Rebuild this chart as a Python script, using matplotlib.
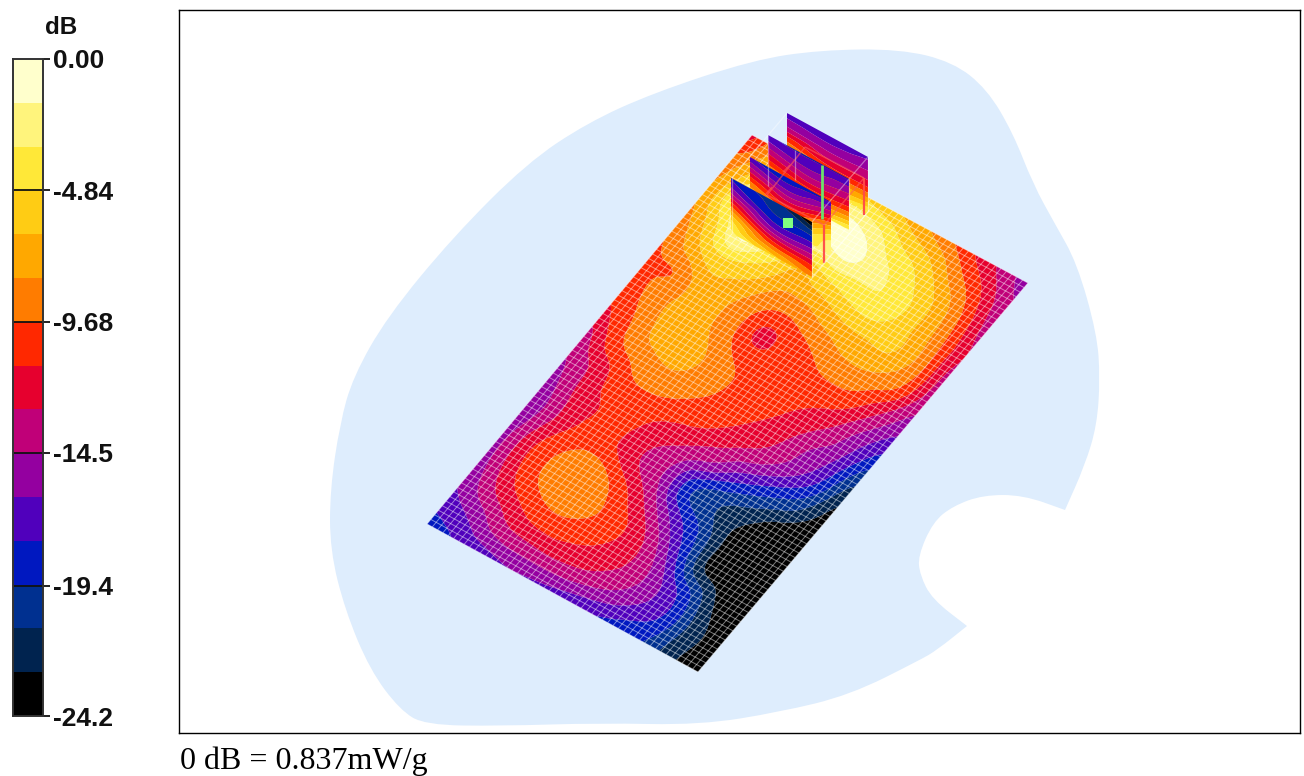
import numpy as np
import matplotlib
matplotlib.use("Agg")
import matplotlib.pyplot as plt
import matplotlib.tri as mtri
from matplotlib.path import Path
from matplotlib.patches import PathPatch
from matplotlib.collections import LineCollection
from matplotlib.colors import ListedColormap

# ---------------- data ----------------
band_colors = ['#000000', '#00234F', '#003090', '#0018C0', '#5000BC', '#9400A0',
               '#C00078', '#E6002E', '#FF2800', '#FF7C00', '#FFA800', '#FFCC14',
               '#FFE838', '#FFF47C', '#FFFFCC']
tick_values = [0.0, -4.84, -9.68, -14.5, -19.4, -24.2]
tick_labels = ['0.00', '-4.84', '-9.68', '-14.5', '-19.4', '-24.2']
db_min, db_max = -24.2, 0.0

# measurement surface: corners (left, top, right, bottom)
corner_a = (427, 524)
corner_b = (752, 135)
corner_c = (1028, 283)
corner_d = (698, 672)

# dB at grid nodes; one row per long-side step, one column per short-side step
row_00 = [-18.5, -17.8, -17.0, -16.4, -16.6, -17.2, -17.9, -18.7, -19.5, -22.3, -24.0]
row_01 = [-17.0, -15.5, -13.5, -13.0, -12.8, -13.2, -14.3, -16.0, -17.9, -21.8, -23.5]
row_02 = [-15.8, -12.9, -11.2, -10.2, -10.7, -11.6, -13.0, -15.5, -18.5, -22.6, -24.0]
row_03 = [-15.3, -11.6, -9.4, -8.6, -9.5, -11.0, -13.5, -17.8, -23.0, -24.0, -24.0]
row_04 = [-15.5, -11.5, -9.4, -8.5, -10.3, -12.9, -16.5, -19.3, -23.0, -24.0, -24.0]
row_05 = [-16.2, -12.9, -10.8, -11.0, -12.9, -14.8, -19.6, -21.0, -22.3, -24.0, -23.6]
row_06 = [-15.5, -12.6, -11.2, -10.9, -12.4, -13.5, -15.0, -17.5, -19.3, -21.0, -23.5]
row_07 = [-14.6, -12.4, -10.1, -9.9, -10.6, -11.2, -12.4, -13.6, -15.5, -18.0, -22.6]
row_08 = [-13.5, -10.1, -8.8, -8.2, -9.2, -10.2, -11.1, -12.3, -14.4, -16.3, -20.5]
row_09 = [-11.5, -9.4, -7.3, -7.4, -8.9, -10.0, -10.4, -11.3, -12.5, -15.0, -17.9]
row_10 = [-10.5, -8.9, -7.2, -8.1, -10.3, -10.9, -10.3, -10.0, -10.3, -12.8, -15.7]
row_11 = [-10.2, -9.7, -6.9, -8.0, -10.1, -10.4, -9.4, -8.2, -8.3, -9.7, -14.2]
row_12 = [-9.7, -6.6, -5.3, -6.2, -8.2, -8.1, -6.9, -6.4, -6.2, -8.7, -13.8]
row_13 = [-8.6, -4.9, -0.8, -3.8, -6.5, -5.0, -4.1, -3.9, -6.2, -9.0, -13.2]
row_14 = [-8.4, -3.0, -1.5, -3.0, -2.0, -1.0, -2.7, -4.2, -6.3, -9.5, -13.9]
row_15 = [-9.3, -6.0, -4.0, -3.0, -1.0, -2.0, -4.4, -5.8, -8.6, -11.1, -14.4]
row_16 = [-12.3, -8.0, -6.0, -5.0, -5.3, -6.2, -7.5, -9.2, -11.3, -13.4, -15.5]
plane_rows = [row_00, row_01, row_02, row_03, row_04, row_05, row_06, row_07, row_08,
              row_09, row_10, row_11, row_12, row_13, row_14, row_15, row_16]

# local minimum in the middle of the surface (x px, y px, dB)
pit = (762, 338, -12.6)

# volume-scan slices, front to back; rows = top to bottom, columns = left/middle/right
slice_1_db = [[-18, -20, -24], [-15, -19, -19.5], [-10, -16, -16], [-5, -11, -12], [-2.5, -6, -8.5]]
slice_2_db = [[-17.5, -19, -18], [-13.5, -16, -13], [-9, -12, -7], [-6, -8, -3], [-4, -5, -2]]
slice_3_db = [[-17.5, -18, -18], [-14.5, -16, -15], [-11, -13, -12], [-7, -9, -8], [-4, -5, -3]]
slice_4_db = [[-17, -17.5, -16.5], [-14.5, -15, -14.5], [-10, -12, -12], [-7, -8, -8], [-5, -5, -3]]
slice_1_box = [(731, 178), (812, 222), (812, 277), (731, 233)]
slice_2_box = [(750, 157), (831, 202), (831, 255), (750, 210)]
slice_3_box = [(768, 135), (849, 179), (849, 230), (768, 186)]
slice_4_box = [(787, 113), (868, 157), (868, 212), (787, 168)]

# phantom outline (pale blue); a repeated vertex keeps a corner sharp
outline_x = [900, 953, 987, 1013, 1033, 1055, 1077, 1097, 1100, 1097, 1085, 1065, 1065, 1023, 983,
             953, 933, 918, 920, 932, 967, 967, 937, 920, 850, 780, 700, 600, 500, 425, 400, 370, 345,
             330, 330, 340, 353, 387, 453, 527, 587, 653, 753, 820]
outline_y = [49, 62, 89, 133, 184, 224, 263, 334, 378, 425, 465, 510, 510, 495, 495,
             506, 522, 556, 575, 599, 626, 626, 650, 660, 695, 712, 725, 723, 726, 725, 710, 670, 610,
             550, 490, 423, 377, 317, 237, 163, 123, 93, 60, 50]

# wireframe of the zoom-scan box
red_segments = [[(824, 225), (864, 178)], [(767, 195), (824, 225)], [(805, 147), (864, 178)],
                [(767, 195), (805, 147)], [(790, 165), (783, 172)], [(772, 187), (765, 195)]]
red_posts = [[(824, 225), (824, 263)], [(864, 178), (864, 215)]]
white_segments = [[(787, 113), (732, 178)], [(868, 157), (812, 222)], [(868, 212), (812, 277)],
                  [(795, 150), (795, 180)], [(732, 178), (732, 233)], [(812, 222), (812, 277)],
                  [(868, 157), (868, 212)], [(768, 135), (768, 186)], [(849, 179), (849, 230)]]
green_line = [(822, 165), (822, 219)]
green_square = (787.5, 222.5)
mesh_long, mesh_short = 85, 51

levels = np.linspace(db_min, db_max, len(band_colors) + 1)

plt.rcParams['font.family'] = ['Liberation Sans', 'DejaVu Sans']
fig = plt.figure(figsize=(13.04, 7.76), dpi=100)
W, H = 1304, 776


def add_axes_px(x0, y0, x1, y1):
    return fig.add_axes([x0 / W, 1 - y1 / H, (x1 - x0) / W, (y1 - y0) / H])


def bilinear(u, v, a, b, c, d):
    x = (1 - u) * (1 - v) * a[0] + u * (1 - v) * b[0] + u * v * c[0] + (1 - u) * v * d[0]
    y = (1 - u) * (1 - v) * a[1] + u * (1 - v) * b[1] + u * v * c[1] + (1 - u) * v * d[1]
    return x, y


def soften(z, sigma):
    """Gaussian softening of the rendered field, to remove grid facets."""
    r = int(3 * sigma)
    k = np.exp(-0.5 * (np.arange(-r, r + 1) / sigma) ** 2)
    k /= k.sum()
    p = np.pad(z, r, mode='edge')
    p = np.apply_along_axis(lambda m: np.convolve(m, k, mode='same'), 0, p)
    p = np.apply_along_axis(lambda m: np.convolve(m, k, mode='same'), 1, p)
    return p[r:-r, r:-r]


def draw_field(ax, us, vs, values, a, b, c, d, zorder, extra=None, sigma=0.0, size=(500, 300), aspect=(507, 309)):
    uu, vv = np.meshgrid(us, vs, indexing='ij')
    uf, vf, zf = uu.ravel(), vv.ravel(), np.asarray(values, float).ravel()
    if extra is not None:
        uf = np.append(uf, extra[0])
        vf = np.append(vf, extra[1])
        zf = np.append(zf, extra[2])
    base = mtri.Triangulation(uf * aspect[0], vf * aspect[1])
    interp = mtri.CubicTriInterpolator(base, zf, kind='geom')
    ug = np.linspace(1e-6, 1 - 1e-6, size[0])
    vg = np.linspace(1e-6, 1 - 1e-6, size[1])
    U, V = np.meshgrid(ug, vg, indexing='ij')
    Z = np.ma.filled(interp(U * aspect[0], V * aspect[1]), np.nan)
    Z = np.where(np.isnan(Z), np.nanmean(Z), Z)
    if sigma > 0:
        Z = soften(Z, sigma)
    Z = np.clip(Z, db_min + 1e-3, db_max - 1e-3)
    X, Y = bilinear(U, V, a, b, c, d)
    return ax.contourf(X, Y, Z, levels=levels, colors=band_colors, zorder=zorder, antialiased=True)


# ---------------- main frame ----------------
ax = add_axes_px(179, 10, 1300, 733)
ax.set_xlim(179, 1300)
ax.set_ylim(733, 10)
ax.set_xticks([])
ax.set_yticks([])
for s in ax.spines.values():
    s.set_linewidth(1.0)
    s.set_color('black')

# phantom outline
pts = list(zip(outline_x, outline_y))
n = len(pts)
mid = lambda p, q: ((p[0] + q[0]) / 2, (p[1] + q[1]) / 2)
verts = [mid(pts[-1], pts[0])]
codes = [Path.MOVETO]
for i in range(n):
    verts += [pts[i], mid(pts[i], pts[(i + 1) % n])]
    codes += [Path.CURVE3, Path.CURVE3]
ax.add_patch(PathPatch(Path(verts, codes), facecolor='#DEEDFD', edgecolor='none', zorder=1))

# surface
us = np.linspace(0, 1, len(plane_rows))
vs = np.linspace(0, 1, len(plane_rows[0]))
dx, dy = pit[0] - corner_a[0], pit[1] - corner_a[1]
ex, ey = corner_b[0] - corner_a[0], corner_b[1] - corner_a[1]
fx, fy = corner_d[0] - corner_a[0], corner_d[1] - corner_a[1]
det = ex * fy - ey * fx
pit_uv = ((dx * fy - dy * fx) / det, (ex * dy - ey * dx) / det, pit[2])
draw_field(ax, us, vs, plane_rows, corner_a, corner_b, corner_c, corner_d, 2, extra=pit_uv, sigma=6.0)

# white mesh on the surface
segs = []
for t in np.linspace(0, 1, mesh_long + 1):
    segs.append([bilinear(t, 0.0, corner_a, corner_b, corner_c, corner_d),
                 bilinear(t, 1.0, corner_a, corner_b, corner_c, corner_d)])
for t in np.linspace(0, 1, mesh_short + 1):
    segs.append([bilinear(0.0, t, corner_a, corner_b, corner_c, corner_d),
                 bilinear(1.0, t, corner_a, corner_b, corner_c, corner_d)])
ax.add_collection(LineCollection(segs, colors='white', linewidths=0.7, alpha=0.48, zorder=3))

# slices, back to front
ss = np.linspace(0, 1, 3)
tt = np.linspace(0, 1, 5)
for z, (vals, box) in enumerate([(slice_4_db, slice_4_box), (slice_3_db, slice_3_box),
                                 (slice_2_db, slice_2_box), (slice_1_db, slice_1_box)]):
    tl, tr, br, bl = box
    draw_field(ax, tt, ss, vals, tl, bl, br, tr, 4 + z, size=(80, 120), aspect=(55, 90))

ax.add_collection(LineCollection(red_segments, colors='#FF5A5A', linewidths=1.1, alpha=0.6, zorder=9))
ax.add_collection(LineCollection(red_posts, colors='#FF4A4A', linewidths=1.6, alpha=0.95, zorder=9))
ax.add_collection(LineCollection(white_segments, colors='white', linewidths=0.9, alpha=0.4, zorder=9))
ax.plot([p[0] for p in green_line], [p[1] for p in green_line], color='#6CE06C', lw=2, zorder=10,
        solid_capstyle='butt')
ax.plot([green_square[0]], [green_square[1]], 's', color='#80FF80', ms=6.5, mew=0, zorder=11)

# ---------------- colour bar ----------------
cax = add_axes_px(13, 59, 43, 716)
cax.pcolormesh([0, 1], levels, np.arange(len(band_colors)).reshape(-1, 1) + 0.5,
               cmap=ListedColormap(band_colors), vmin=0, vmax=len(band_colors))
cax.set_ylim(db_min, db_max)
cax.set_xlim(0, 1)
cax.set_xticks([])
cax.yaxis.tick_right()
cax.set_yticks(tick_values)
cax.set_yticklabels(tick_labels, fontweight='bold', fontsize=19, color='#111111')
cax.tick_params(axis='y', length=5, width=1.3, pad=2, color='#111111')
for v in tick_values[1:-1]:
    cax.axhline(v, color='#111111', lw=1.3)
for s in cax.spines.values():
    s.set_linewidth(1.4)
    s.set_color('#333333')
fig.text(61 / W, 1 - 27 / H, 'dB', ha='center', va='center', fontweight='bold', fontsize=17.5,
         color='#111111')

fig.text(180 / W, 1 - 769 / H, '0 dB = 0.837mW/g', ha='left', va='baseline',
         family=['Liberation Serif', 'DejaVu Serif'], fontsize=23, color='black')

fig.savefig('out.png', dpi=100)
